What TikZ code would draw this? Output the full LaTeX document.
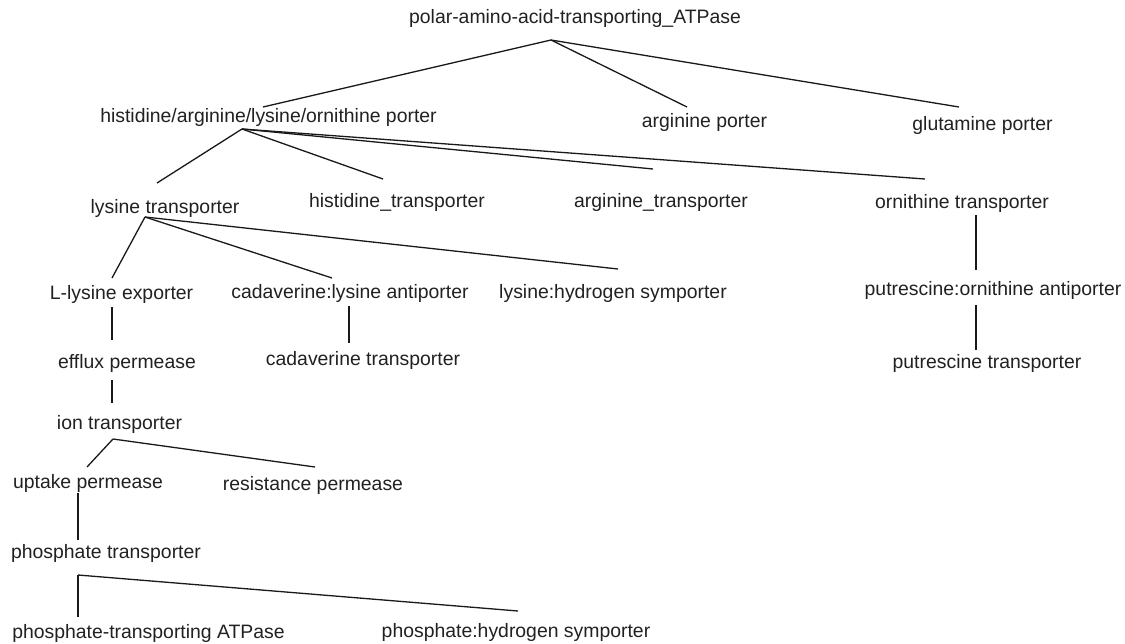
\documentclass[tikz,border=0pt]{standalone}
\usepackage{fontspec}
\setmainfont{Liberation Sans}
\begin{document}
\begin{tikzpicture}[x=1pt,y=-1pt,
  lbl/.style={anchor=base,inner sep=0pt,text=black!87,font=\fontsize{19.4}{23}\selectfont},
  edge/.style={line width=1.3pt,black!90}]
\useasboundingbox[fill=white] (0,0) rectangle (1125,643);
% nodes (centre x, baseline y)
\node[lbl] (root) at (575,23) {polar-amino-acid-transporting\_ATPase};
\node[lbl] (hp) at (268.5,122) {histidine/arginine/lysine/ornithine porter};
\node[lbl] (ap) at (704.5,127) {arginine porter};
\node[lbl] (gp) at (982.5,130) {glutamine porter};
\node[lbl] (lt) at (165,213) {lysine transporter};
\node[lbl] (ht) at (397,207) {histidine\_transporter};
\node[lbl] (at) at (661,207) {arginine\_transporter};
\node[lbl] (ot) at (962,208) {ornithine transporter};
\node[lbl] (le) at (121.5,299) {L-lysine exporter};
\node[lbl] (cla) at (350,298) {cadaverine:lysine antiporter};
\node[lbl] (lhs) at (613,298) {lysine:hydrogen symporter};
\node[lbl] (poa) at (993,295) {putrescine:ornithine antiporter};
\node[lbl] (ptr) at (987,368) {putrescine transporter};
\node[lbl] (ctr) at (363,365) {cadaverine transporter};
\node[lbl] (ep) at (127,368) {efflux permease};
\node[lbl] (it) at (119.5,429) {ion transporter};
\node[lbl] (up) at (88,488) {uptake permease};
\node[lbl] (rp) at (313,490) {resistance permease};
\node[lbl] (pt) at (106,558) {phosphate transporter};
\node[lbl] (pta) at (148.5,638) {phosphate-transporting ATPase};
\node[lbl] (phs) at (516,637) {phosphate:hydrogen symporter};
% connector end points
\coordinate (root-o) at (551,40);
\coordinate (hp-i) at (263,107);
\coordinate (ap-i) at (687,107);
\coordinate (gp-i) at (959,107);
\coordinate (hp-o) at (242,129);
\coordinate (lt-i) at (157,183);
\coordinate (ht-i) at (383,179);
\coordinate (at-i) at (653,169);
\coordinate (ot-i) at (925,179);
\coordinate (lt-o) at (145,217);
\coordinate (le-i) at (112,278);
\coordinate (cla-i) at (332,278);
\coordinate (lhs-i) at (618,269);
\coordinate (ot-o) at (976,215);
\coordinate (poa-i) at (976,270);
\coordinate (poa-o) at (976,305);
\coordinate (ptr-i) at (976,350);
\coordinate (le-o) at (112,307);
\coordinate (ep-i) at (112,340);
\coordinate (cla-o) at (349,306);
\coordinate (ctr-i) at (349,343);
\coordinate (ep-o) at (112,380);
\coordinate (it-i) at (112,403);
\coordinate (it-o) at (113,439);
\coordinate (up-i) at (87,467);
\coordinate (rp-i) at (315,467);
\coordinate (up-o) at (78,493);
\coordinate (pt-i) at (78,540);
\coordinate (pt-o) at (78,575);
\coordinate (pta-i) at (78,617);
\coordinate (phs-i) at (518,611);
% connectors
\draw[edge] (root-o) -- (hp-i);
\draw[edge] (root-o) -- (ap-i);
\draw[edge] (root-o) -- (gp-i);
\draw[edge] (hp-o) -- (lt-i);
\draw[edge] (hp-o) -- (ht-i);
\draw[edge] (hp-o) -- (at-i);
\draw[edge] (hp-o) -- (ot-i);
\draw[edge] (lt-o) -- (le-i);
\draw[edge] (lt-o) -- (cla-i);
\draw[edge] (lt-o) -- (lhs-i);
\draw[edge] (ot-o) -- (poa-i);
\draw[edge] (poa-o) -- (ptr-i);
\draw[edge] (le-o) -- (ep-i);
\draw[edge] (cla-o) -- (ctr-i);
\draw[edge] (ep-o) -- (it-i);
\draw[edge] (it-o) -- (up-i);
\draw[edge] (it-o) -- (rp-i);
\draw[edge] (up-o) -- (pt-i);
\draw[edge] (pt-o) -- (pta-i);
\draw[edge] (pt-o) -- (phs-i);
\end{tikzpicture}
\end{document}
